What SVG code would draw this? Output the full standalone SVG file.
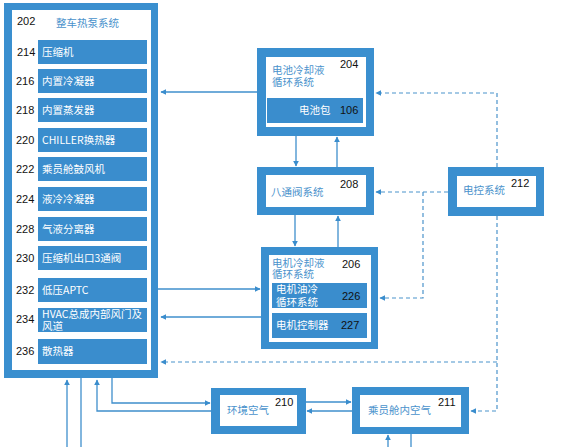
<svg xmlns="http://www.w3.org/2000/svg" width="568" height="447" viewBox="0 0 568 447">
<style>
.frame{fill:#3a8fcf}
.inner{fill:#ffffff}
.sub{fill:#3a8dcd}
.ttl{font-family:"Noto Sans CJK SC","Liberation Sans",sans-serif;font-size:10.5px;fill:#4a92cc}
.st{font-family:"Noto Sans CJK SC","Liberation Sans",sans-serif;font-size:10.5px;fill:#ffffff}
.num{font-family:"Liberation Sans","Noto Sans",sans-serif;font-size:11px;fill:#111111}
.ln{fill:none;stroke:#3f8fcc;stroke-width:1.3}
.dl{fill:none;stroke:#4b93cb;stroke-width:1.2;stroke-dasharray:4 3}
</style>
<defs>
<marker id="ah" viewBox="0 0 10 10" refX="9" refY="5" markerWidth="6" markerHeight="6" markerUnits="userSpaceOnUse" orient="auto">
<path d="M0,0 L10,5 L0,10 z" fill="#3a8dcd"/>
</marker>
</defs>
<rect width="568" height="447" fill="#ffffff"/>

<g id="connectors">
<path class="ln" d="M257,92 H161" marker-end="url(#ah)"/>
<path class="ln" d="M158,289 H260" marker-end="url(#ah)"/>
<path class="ln" d="M261,317 H161" marker-end="url(#ah)"/>
<path class="ln" d="M296,136 V166" marker-end="url(#ah)"/>
<path class="ln" d="M337,167 V137" marker-end="url(#ah)"/>
<path class="ln" d="M295,215 V246" marker-end="url(#ah)"/>
<path class="ln" d="M338,247 V216" marker-end="url(#ah)"/>
<path class="ln" d="M112,378 V403 H210" marker-end="url(#ah)"/>
<path class="ln" d="M211,411 H97 V380" marker-end="url(#ah)"/>
<path class="ln" d="M306,402 H351" marker-end="url(#ah)"/>
<path class="ln" d="M352,411 H307" marker-end="url(#ah)"/>
<path class="ln" d="M67,447 V380" marker-end="url(#ah)"/>
<path class="ln" d="M81,378 V447"/>
<path class="ln" d="M388,447 V435" marker-end="url(#ah)"/>
<path class="ln" d="M411,434 V447"/>
<path class="dl" d="M497,167 V93 H376" marker-end="url(#ah)"/>
<path class="dl" d="M448,192 H376" marker-end="url(#ah)"/>
<path class="dl" d="M423,192 V298 H380" marker-end="url(#ah)"/>
<path class="dl" d="M497,216 V411 H471" marker-end="url(#ah)"/>
<path class="dl" d="M497,362 H161" marker-end="url(#ah)"/>
</g>

<g id="n202">
<rect class="frame" x="4" y="3" width="154" height="375"/>
<rect class="inner" x="12" y="10" width="139" height="360"/>
<text class="num" x="17" y="25">202</text>
<text class="ttl" x="56" y="27">整车热泵系统</text>
</g>
<g id="n214"><rect class="sub" x="38" y="40" width="109" height="24"/><text class="num" x="17" y="56">214</text><text class="st" x="42" y="56">压缩机</text></g>
<g id="n216"><rect class="sub" x="38" y="69" width="109" height="24"/><text class="num" x="16" y="85">216</text><text class="st" x="42" y="85">内置冷凝器</text></g>
<g id="n218"><rect class="sub" x="38" y="98" width="109" height="24"/><text class="num" x="16" y="114">218</text><text class="st" x="42" y="114">内置蒸发器</text></g>
<g id="n220"><rect class="sub" x="38" y="128" width="109" height="24"/><text class="num" x="16" y="144">220</text><text class="st" x="42" y="144">CHILLER换热器</text></g>
<g id="n222"><rect class="sub" x="38" y="157" width="109" height="24"/><text class="num" x="16" y="173">222</text><text class="st" x="42" y="173">乘员舱鼓风机</text></g>
<g id="n224"><rect class="sub" x="38" y="187" width="109" height="24"/><text class="num" x="16" y="203">224</text><text class="st" x="42" y="203">液冷冷凝器</text></g>
<g id="n228"><rect class="sub" x="38" y="217" width="109" height="24"/><text class="num" x="16" y="233">228</text><text class="st" x="42" y="233">气液分离器</text></g>
<g id="n230"><rect class="sub" x="38" y="246" width="109" height="24"/><text class="num" x="16" y="262">230</text><text class="st" x="42" y="262">压缩机出口3通阀</text></g>
<g id="n232"><rect class="sub" x="38" y="278" width="109" height="24"/><text class="num" x="16" y="294">232</text><text class="st" x="42" y="294">低压APTC</text></g>
<g id="n234"><rect class="sub" x="38" y="308" width="109" height="24"/><text class="num" x="16" y="323">234</text><text class="st" x="42" y="318">HVAC总成内部风门及<tspan x="42" dy="12">风道</tspan></text></g>
<g id="n236"><rect class="sub" x="38" y="339" width="109" height="25"/><text class="num" x="16" y="355">236</text><text class="st" x="42" y="355">散热器</text></g>

<g id="n204">
<rect class="frame" x="257" y="48" width="117" height="88"/>
<rect class="inner" x="266" y="57" width="100" height="70"/>
<text class="ttl" x="272" y="74">电池冷却液<tspan x="272" dy="12">循环系统</tspan></text>
<text class="num" x="340" y="68">204</text>
</g>
<g id="n106">
<rect class="sub" x="267" y="98" width="96" height="25"/>
<text class="st" x="299" y="114">电池包</text>
<text class="num" x="340" y="114">106</text>
</g>

<g id="n208">
<rect class="frame" x="257" y="167" width="117" height="48"/>
<rect class="inner" x="266" y="175" width="100" height="32"/>
<text class="ttl" x="271" y="196">八通阀系统</text>
<text class="num" x="340" y="188">208</text>
</g>

<g id="n206">
<rect class="frame" x="261" y="247" width="117" height="102"/>
<rect class="inner" x="269" y="255" width="102" height="87"/>
<text class="ttl" x="272" y="267">电机冷却液<tspan x="272" dy="11">循环系统</tspan></text>
<text class="num" x="342" y="268">206</text>
</g>
<g id="n226">
<rect class="sub" x="272" y="283" width="95" height="25"/>
<text class="st" x="276" y="293">电机油冷<tspan x="276" dy="13">循环系统</tspan></text>
<text class="num" x="342" y="300">226</text>
</g>
<g id="n227">
<rect class="sub" x="272" y="313" width="95" height="25"/>
<text class="st" x="276" y="329">电机控制器</text>
<text class="num" x="341" y="329">227</text>
</g>

<g id="n212">
<rect class="frame" x="448" y="167" width="96" height="49"/>
<rect class="inner" x="457" y="176" width="79" height="31"/>
<text class="ttl" x="463" y="194">电控系统</text>
<text class="num" x="511" y="187">212</text>
</g>

<g id="n210">
<rect class="frame" x="211" y="388" width="95" height="46"/>
<rect class="inner" x="220" y="395" width="77" height="31"/>
<text class="ttl" x="227" y="414">环境空气</text>
<text class="num" x="275" y="406">210</text>
</g>

<g id="n211">
<rect class="frame" x="352" y="387" width="117" height="47"/>
<rect class="inner" x="360" y="395" width="101" height="32"/>
<text class="ttl" x="368" y="414">乘员舱内空气</text>
<text class="num" x="438" y="406">211</text>
</g>
</svg>
